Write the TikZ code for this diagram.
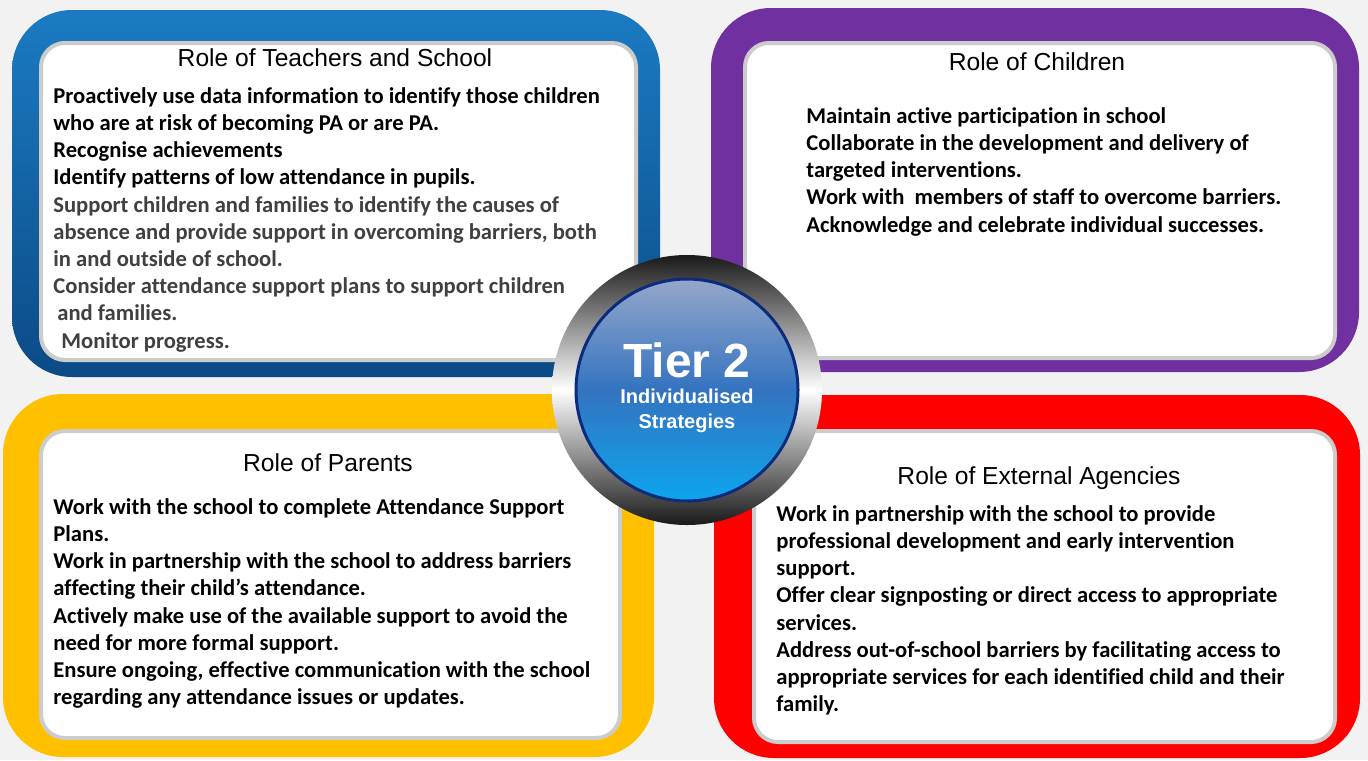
\documentclass[tikz,border=0pt]{standalone}
\usepackage{fontspec}
\setmainfont{Carlito}[Ligatures=NoCommon]
\newfontfamily\headfont{Liberation Sans}
\definecolor{teachblue}{HTML}{1B7BC2}
\definecolor{teachnavy}{HTML}{0B4A86}
\definecolor{childpurple}{HTML}{7030A0}
\definecolor{parentyellow}{HTML}{FFC000}
\definecolor{agencyred}{HTML}{FF0000}
\definecolor{greytext}{HTML}{404040}
\definecolor{bggrey}{HTML}{F2F2F2}
\definecolor{tiertop}{HTML}{95A7CB}
\definecolor{tiermid}{HTML}{3473C0}
\definecolor{tierlow}{HTML}{0CA6EE}
\definecolor{tiernavy}{HTML}{0B2C7C}

\begin{document}
\begin{tikzpicture}[
    x=0.5pt, y=-0.5pt,
    frame/.style={rounded corners=30pt},
    panel/.style={fill=white, draw=black!20, line width=2pt, rounded corners=12pt},
    heading/.style={font=\headfont\fontsize{12.3}{14}\selectfont, anchor=center, inner sep=0pt},
    body/.style={font=\bfseries\fontsize{11.3}{13.6}\selectfont, align=left, anchor=north west, inner sep=0pt}
    ]
  \useasboundingbox (0,0) rectangle (1368,760);
  \fill[bggrey] (0,0) rectangle (1368,760);
  % frames and white panels
  \shade[frame, top color=teachblue, bottom color=teachnavy] (12,10) rectangle (660,377);
  \fill[frame, childpurple] (711,8) rectangle (1359,372);
  \fill[frame, parentyellow] (3,394) rectangle (654,757);
  \fill[frame, agencyred] (714,395) rectangle (1360,758);
  \draw[panel] (41,43) rectangle (636,360);
  \draw[panel] (745,43) rectangle (1335,358);
  \draw[panel] (41,431) rectangle (620,738);
  \draw[panel] (754,431) rectangle (1335,742);
  % headings
  \node[heading] (teachhead) at (335,58) {Role of Teachers and School};
  \node[heading] (childhead) at (1037,62) {Role of Children};
  \node[heading] (parenthead) at (328,463) {Role of Parents};
  \node[heading] (agencyhead) at (1039,478) {Role of External Agencies};
  % role texts
  \node[body] (teachers) at (53,87) {Proactively use data information to identify those children\\
    who are at risk of becoming PA or are PA.\\
    Recognise achievements\\
    Identify patterns of low attendance in pupils.\\
    \textcolor{greytext}{Support children and families to identify the causes of}\\
    \textcolor{greytext}{absence and provide support in overcoming barriers, both}\\
    \textcolor{greytext}{in and outside of school.}\\
    \textcolor{greytext}{Consider attendance support plans to support children}\\
    \textcolor{greytext}{\hspace{2pt}and families.}\\
    \textcolor{greytext}{\hspace{4pt}Monitor progress.}};
  \node[body] (children) at (806,107) {Maintain active participation in school\\
    Collaborate in the development and delivery of\\
    targeted interventions.\\
    Work with\ \ members of staff to overcome barriers.\\
    Acknowledge and celebrate individual successes.};
  \node[body] (parents) at (53,498) {Work with the school to complete Attendance Support\\
    Plans.\\
    Work in partnership with the school to address barriers\\
    affecting their child’s attendance.\\
    Actively make use of the available support to avoid the\\
    need for more formal support.\\
    Ensure ongoing, effective communication with the school\\
    regarding any attendance issues or updates.};
  \node[body] (agencies) at (776,505) {Work in partnership with the school to provide\\
    professional development and early intervention\\
    support.\\
    Offer clear signposting or direct access to appropriate\\
    services.\\
    Address out-of-school barriers by facilitating access to\\
    appropriate services for each identified child and their\\
    family.};
  % centre disc
  \shade[top color=black!90, bottom color=black!90, middle color=white] (687,390) circle (67.5pt);
  \node[circle, draw=tiernavy, line width=1.5pt, minimum size=111pt, inner sep=0pt,
        top color=tiertop, bottom color=tierlow, middle color=tiermid] (tier) at (687,390) {};
  \node[font=\headfont\bfseries\fontsize{24}{26}\selectfont, text=white] (tiername) at (687,360) {Tier 2};
  \node[font=\headfont\bfseries\fontsize{10}{12.5}\selectfont, text=white, align=center] (tiersub) at (687,411) {Individualised\\Strategies};
\end{tikzpicture}
\end{document}
